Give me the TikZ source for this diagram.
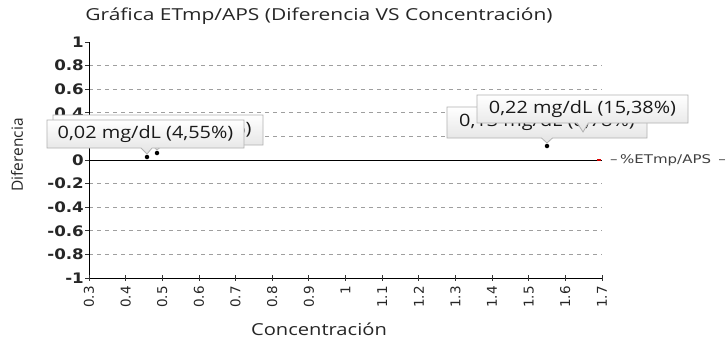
\documentclass[tikz,border=0pt]{standalone}
\usepackage{fontspec}
\usepackage{graphicx}
\setmainfont{Open Sans}
\newfontfamily\dejavu{DejaVu Sans}
\newcommand{\hstretch}[2]{\scalebox{#1}[1]{#2}}
\usetikzlibrary{shapes.callouts}
\tikzset{
  axisline/.style={black, line width=0.9pt},
  gridline/.style={gray!75, line width=0.8pt, dash pattern=on 4pt off 4pt},
  tickmark/.style={black!80, line width=0.8pt},
  ylab/.style={anchor=east, inner sep=0pt, font=\dejavu\fontsize{14.5}{16}\selectfont\bfseries, text=black!85},
  xlab/.style={anchor=east, rotate=90, inner sep=0pt, font=\dejavu\fontsize{13.5}{15}\selectfont, text=black!85},
  dot/.style={circle, fill=black, inner sep=0pt, minimum size=4.5pt},
  callbox/.style={rectangle callout, draw=gray!60, line width=0.8pt, top color=white, bottom color=gray!22,
    inner sep=0pt, minimum height=29pt, callout pointer width=11pt, text=black!90,
    font=\fontsize{17}{20}\selectfont},
}
\begin{document}
\begin{tikzpicture}[x=1pt,y=-1pt]
\useasboundingbox (0,0) rectangle (726,341);
\fill[white] (0,0) rectangle (726,341);

% title and axis titles
\node[font=\fontsize{16.5}{19}\selectfont, text=black!85] (title) at (319,16) {\hstretch{1.27}{Gráfica ETmp/APS (Diferencia VS Concentración)}};
\node[font=\fontsize{15.5}{17}\selectfont, rotate=90, text=black!85] (ytitle) at (17,155) {Diferencia};
\node[font=\fontsize{16.5}{19}\selectfont, text=black!85] (xtitle) at (319,329) {\hstretch{1.22}{Concentración}};

% gridlines and y labels
\foreach \v in {0.8,0.6,0.4,0.2,-0.2,-0.4,-0.6,-0.8}{
  \pgfmathsetmacro\yy{160-\v*118}
  \draw[gridline] (89,\yy) -- (602,\yy);
}
\foreach \v/\lab in {1/1,0.8/0.8,0.6/0.6,0.4/0.4,0.2/0.2,0/0,-0.2/-0.2,-0.4/-0.4,-0.6/-0.6,-0.8/-0.8,-1/-1}{
  \pgfmathsetmacro\yy{160-\v*118}
  \draw[tickmark] (85,\yy) -- (89,\yy);
  \node[ylab] at (84,\yy) {\hstretch{1.15}{\lab}};
}

% axes
\coordinate (ytop) at (89,42);
\coordinate (ybot) at (89,278);
\coordinate (xend) at (602,278);
\coordinate (zstart) at (89,160);
\coordinate (zend) at (602,160);
\draw[axisline] (ytop) -- (ybot) -- (xend);
\draw[black, line width=0.9pt] (zstart) -- (zend);

% x ticks and labels
\foreach \lab [count=\i from 0] in {0.3,0.4,0.5,0.6,0.7,0.8,0.9,1,1.1,1.2,1.3,1.4,1.5,1.6,1.7}{
  \pgfmathsetmacro\xx{89+\i*36.64}
  \draw[tickmark] (\xx,275) -- (\xx,281);
  \node[xlab] at (\xx,286) {\lab};
}

% red marker and legend
\fill[red!85!black] (596.5,159) rectangle (600.5,161.2);
\node[anchor=west, inner sep=0pt, font=\dejavu\fontsize{12}{14}\selectfont, text=black!75] (legend) at (610,160) {\hstretch{1.25}{–\,\%ETmp/APS \,–}};

% data points
\node[dot] (p1) at (147,157) {};
\node[dot] (p2) at (157,153) {};
\node[dot] (p3) at (547,146) {};

\coordinate (ptr1) at (157,150);
\coordinate (ptr2) at (147,154);
\coordinate (ptr3) at (547,143);
\coordinate (ptr4) at (583,132);

% callouts
\node[callbox, minimum width=210pt, minimum height=30pt, callout absolute pointer={(ptr1)}] (b1) at (158,130) {\hstretch{1.17}{0,05 mg/dL (10,20\%)}};
\node[callbox, minimum width=197pt, minimum height=28pt, callout absolute pointer={(ptr2)}] (b2) at (145.5,134) {\hstretch{1.17}{0,02 mg/dL (4,55\%)}};
\node[callbox, minimum width=200pt, minimum height=31pt, callout absolute pointer={(ptr3)}] (b3) at (547,122.5) {\hstretch{1.17}{0,13 mg/dL (8,78\%)}};
\node[callbox, minimum width=211pt, minimum height=28pt, callout absolute pointer={(ptr4)}] (b4) at (582.5,109) {\hstretch{1.17}{0,22 mg/dL (15,38\%)}};
\end{tikzpicture}
\end{document}
